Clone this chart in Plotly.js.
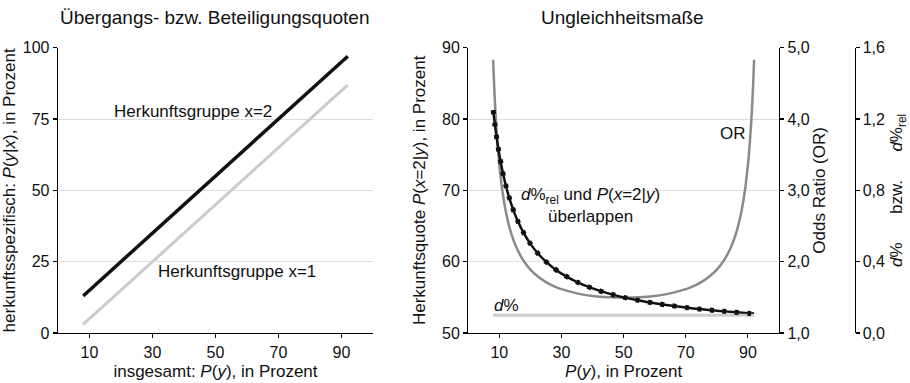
<!DOCTYPE html>
<html>
<head>
<meta charset="utf-8">
<script src="https://cdn.plot.ly/plotly-3.0.1.min.js"></script>
<style>html,body{margin:0;padding:0;background:#fff;}#chart{width:910px;height:383px;}</style>
</head>
<body>
<div id="chart"></div>
<script>
// ---- Data ----
// Left panel: group-specific rates vs. overall rate
var leftX = [8, 92];
var group2Y = [13, 97];   // Herkunftsgruppe x=2
var group1Y = [3, 87];    // Herkunftsgruppe x=1

// Right panel: inequality measures
var orX = [8, 8.25, 8.5, 8.75, 9, 9.5, 10, 11, 12, 13, 14, 15, 16, 18, 20, 22.5, 25, 27.5, 30, 35, 40, 45, 50,
           55, 60, 65, 70, 72.5, 75, 77.5, 80, 82, 84, 85, 86, 87, 88, 89, 90, 90.5, 91, 91.25, 91.5, 91.75, 92];
var orY = [4.831, 4.547, 4.303, 4.092, 3.907, 3.599, 3.353, 2.984, 2.721, 2.524, 2.372, 2.25, 2.151, 1.999, 1.889, 1.788, 1.714, 1.658, 1.615, 1.556, 1.519, 1.5, 1.494,
           1.5, 1.519, 1.556, 1.615, 1.658, 1.714, 1.788, 1.889, 1.999, 2.151, 2.25, 2.372, 2.524, 2.721, 2.984, 3.353, 3.599, 3.907, 4.092, 4.303, 4.547, 4.831];

var pX = [8, 8.5, 9, 9.5, 10, 11, 12, 13, 14, 15, 16, 18, 20, 22.5, 25, 27.5, 30, 35, 40, 45, 50, 55, 60, 65, 70, 75, 80, 85, 90, 92];
var pY = [81.25, 79.41, 77.78, 76.32, 75, 72.73, 70.83, 69.23, 67.86, 66.67, 65.63, 63.89, 62.5, 61.11, 60, 59.09, 58.33, 57.14, 56.25, 55.56, 55,
          54.55, 54.17, 53.85, 53.57, 53.33, 53.13, 52.94, 52.78, 52.72];
var dRelY = [1.25, 1.176, 1.111, 1.053, 1.0, 0.909, 0.833, 0.769, 0.714, 0.667, 0.625, 0.556, 0.5, 0.444, 0.4, 0.364, 0.333, 0.286, 0.25, 0.222, 0.2,
             0.182, 0.167, 0.154, 0.143, 0.133, 0.125, 0.118, 0.111, 0.109];
var dX = [8, 92];
var dY = [0.1, 0.1];

// Tick labels
var xTicks = [10, 30, 50, 70, 90];
var leftYTicks = [0, 25, 50, 75, 100];
var quoteTicks = [50, 60, 70, 80, 90];
var orTicks = [1, 2, 3, 4, 5];
var orTickText = ['1,0', '2,0', '3,0', '4,0', '5,0'];
var dTicks = [0, 0.4, 0.8, 1.2, 1.6];
var dTickText = ['0,0', '0,4', '0,8', '1,2', '1,6'];

// ---- Styling ----
var FONT = 'Liberation Sans, Arial, Helvetica, sans-serif';
var TXT = '#111';
var axisBase = {
  showline: true, linecolor: '#000', linewidth: 1.3,
  ticks: 'outside', ticklen: 4, tickwidth: 1.2, tickcolor: '#000',
  zeroline: false, showgrid: false, fixedrange: true,
  tickfont: {family: FONT, size: 16, color: TXT}
};
function ax(o) { return Object.assign({}, axisBase, o); }

var traces = [
  {x: leftX, y: group1Y, xaxis: 'x', yaxis: 'y', mode: 'lines', line: {color: '#cccccc', width: 3}, hoverinfo: 'skip'},
  {x: leftX, y: group2Y, xaxis: 'x', yaxis: 'y', mode: 'lines', line: {color: '#111', width: 3.5}, hoverinfo: 'skip'},
  {x: orX, y: orY, xaxis: 'x2', yaxis: 'y2', mode: 'lines', line: {color: '#8a8a8a', width: 2.5, shape: 'spline', smoothing: 0.6}, hoverinfo: 'skip'},
  {x: pX, y: pY, xaxis: 'x2', yaxis: 'y3', mode: 'lines', line: {color: '#111', width: 2.5, shape: 'spline', smoothing: 0.6}, hoverinfo: 'skip'},
  {x: dX, y: dY, xaxis: 'x2', yaxis: 'y4', mode: 'lines', line: {color: '#cccccc', width: 3}, hoverinfo: 'skip'},
  {x: pX, y: dRelY, xaxis: 'x2', yaxis: 'y4', mode: 'lines', line: {color: '#111', width: 5, dash: '4px,8.5px', shape: 'spline', smoothing: 0.6}, hoverinfo: 'skip'}
];

var titleFont = {family: FONT, size: 17, color: TXT};
var layout = {
  width: 910, height: 383,
  margin: {l: 0, r: 0, t: 0, b: 0},
  paper_bgcolor: '#fff', plot_bgcolor: 'rgba(0,0,0,0)',
  showlegend: false,
  font: {family: FONT, color: TXT},
  xaxis: ax({domain: [0.0637, 0.4099], range: [0, 100], tickvals: xTicks, anchor: 'y',
    title: {text: 'insgesamt: <i>P</i>(<i>y</i>), in Prozent', font: titleFont, standoff: 5}}),
  yaxis: ax({domain: [0.1305, 0.8755], range: [0, 100], tickvals: leftYTicks, anchor: 'x',
    showgrid: true, gridcolor: '#dddddd', gridwidth: 1,
    title: {text: 'herkunftsspezifisch: <i>P</i>(<i>y</i>|<i>x</i>), in Prozent', font: titleFont, standoff: 4}}),
  xaxis2: ax({domain: [0.5146, 0.856], range: [0, 100], tickvals: xTicks, anchor: 'y2',
    title: {text: '<i>P</i>(<i>y</i>), in Prozent', font: titleFont, standoff: 5}}),
  yaxis2: ax({domain: [0.1305, 0.8755], range: [1, 5], tickvals: orTicks, ticktext: orTickText, anchor: 'x2', side: 'right',
    showgrid: true, gridcolor: '#dddddd', gridwidth: 1,
    title: {text: 'Odds Ratio (OR)', font: titleFont, standoff: 4}}),
  yaxis3: ax({range: [50, 90], tickvals: quoteTicks, anchor: 'x2', side: 'left', overlaying: 'y2',
    title: {text: 'Herkunftsquote <i>P</i>(<i>x</i>=2|<i>y</i>), in Prozent', font: titleFont, standoff: 12}}),
  yaxis4: ax({range: [0, 1.6], tickvals: dTicks, ticktext: dTickText, anchor: 'free', position: 854.5 / 910, side: 'right', overlaying: 'y2',
    linewidth: 1, title: {text: '<i>d</i>%\u00a0\u00a0\u00a0\u00a0\u00a0\u00a0bzw.\u00a0\u00a0\u00a0\u00a0\u00a0\u00a0<i>d</i>%<sub>rel</sub>', font: titleFont, standoff: 6}}),
  annotations: [
    {text: 'Übergangs- bzw. Beteiligungsquoten', xref: 'paper', yref: 'paper', x: 214 / 910, y: 1 - 17 / 383,
      xanchor: 'center', yanchor: 'middle', showarrow: false, font: {family: FONT, size: 19, color: TXT}},
    {text: 'Ungleichheitsmaße', xref: 'paper', yref: 'paper', x: 622 / 910, y: 1 - 17 / 383,
      xanchor: 'center', yanchor: 'middle', showarrow: false, font: {family: FONT, size: 19, color: TXT}},
    {text: 'Herkunftsgruppe x=2', xref: 'x', yref: 'y', x: 43, y: 77.5, showarrow: false,
      xanchor: 'center', yanchor: 'middle', font: titleFont},
    {text: 'Herkunftsgruppe x=1', xref: 'x', yref: 'y', x: 56.7, y: 21.4, showarrow: false,
      xanchor: 'center', yanchor: 'middle', font: titleFont},
    {text: 'OR', xref: 'x2', yref: 'y3', x: 85.3, y: 78.0, showarrow: false,
      xanchor: 'center', yanchor: 'middle', font: titleFont},
    {text: '<i>d</i>%<sub>rel</sub> und <i>P</i>(<i>x</i>=2|<i>y</i>)<br>überlappen', xref: 'x2', yref: 'y3', x: 39.2, y: 67.9,
      showarrow: false, xanchor: 'center', yanchor: 'middle', align: 'center', font: titleFont},
    {text: '<i>d</i>%', xref: 'x2', yref: 'y3', x: 12.3, y: 53.9, showarrow: false,
      xanchor: 'center', yanchor: 'middle', font: titleFont}
  ]
};

Plotly.newPlot('chart', traces, layout, {staticPlot: true, displayModeBar: false});
</script>
</body>
</html>
